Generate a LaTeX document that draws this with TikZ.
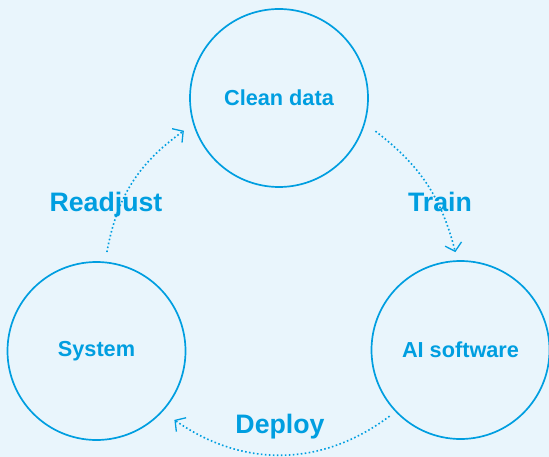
\documentclass[tikz,border=0pt]{standalone}
\usepackage{fontspec}
\setmainfont{Liberation Sans}
\usetikzlibrary{arrows.meta}
\definecolor{cycblue}{RGB}{0,158,224}
\definecolor{cycbg}{RGB}{233,245,252}
\begin{document}
\begin{tikzpicture}[x=1pt, y=-1pt, stage/.style={draw=cycblue, line width=1.7pt, shape=circle, minimum size=178pt, inner sep=0pt, text=cycblue, font=\fontsize{21.7}{24}\selectfont\bfseries},
    flow/.style={draw=cycblue, line width=1.6pt, dash pattern=on 1.6pt off 2.4pt, -{Straight Barb[length=7.5pt, width=17pt, line width=1.3pt]}},
    steplbl/.style={text=cycblue, anchor=base, font=\fontsize{26.7}{30}\selectfont\bfseries}]
        \fill[cycbg] (0,0) rectangle (549,457);
        \useasboundingbox (0,0) rectangle (549,457);

        % the three stages
        \node[stage] (clean) at (279,98) {Clean data};
        \node[stage] (aisw) at (460.5,350) {AI software};
        \node[stage] (system) at (96.5,351) {System};

        % ends of the dotted arrows
        \path (clean) ++(-19:102pt) coordinate (t1);\path (aisw) ++(93:98pt) coordinate (t2);
        \path (aisw) ++(223:97pt) coordinate (d1);\path (system) ++(-41.5:104pt) coordinate (d2);
        \path (system) ++(84:99.5pt) coordinate (r1);\path (clean) ++(199:100.6pt) coordinate (r2);

        \draw[flow] (t1) to[bend left=19] (t2);
        \draw[flow] (d1) to[bend left=36] (d2);
        \draw[flow] (r1) to[bend left=22] (r2);

        \node[steplbl] (train) at (440,212) {Train};
        \node[steplbl] (deploy) at (280,433) {Deploy};
        \node[steplbl] (readjust) at (106,212) {Readjust};
    \end{tikzpicture}
\end{document}
